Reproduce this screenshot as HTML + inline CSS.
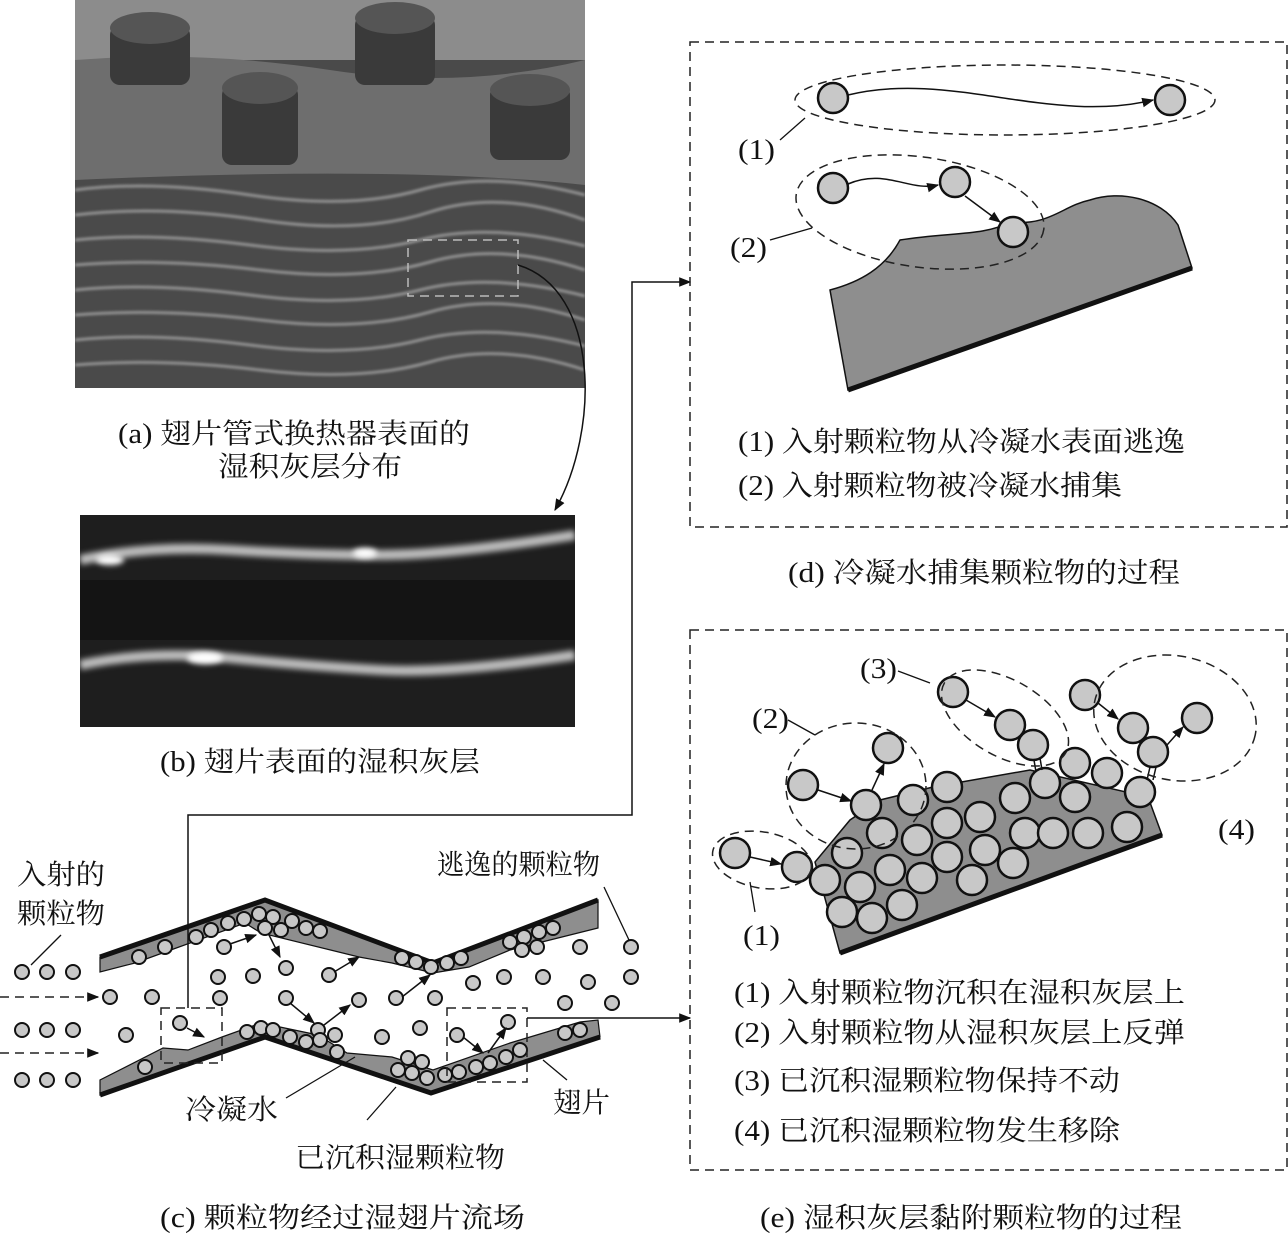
<!DOCTYPE html>
<html><head><meta charset="utf-8"><style>
html,body{margin:0;padding:0;background:#fff}
svg{display:block}
text{font-family:"Liberation Serif","Noto Serif CJK SC",serif;font-size:28px;fill:#111}
.p{fill:#c8c8c8;stroke:#111;stroke-width:2}
.q{fill:#c8c8c8;stroke:#111;stroke-width:2.5}
.d{fill:none;stroke:#222;stroke-width:1.5;stroke-dasharray:9 6}
.l{fill:none;stroke:#111;stroke-width:1.3}
.a{fill:none;stroke:#111;stroke-width:1.5;marker-end:url(#ah)}
</style></head><body>
<svg width="1288" height="1234" viewBox="0 0 1288 1234" xmlns="http://www.w3.org/2000/svg">
<defs>
<marker id="ah" viewBox="0 0 10 10" refX="9" refY="5" markerWidth="8" markerHeight="8" orient="auto-start-reverse"><path d="M0,1 L10,5 L0,9 z" fill="#111"/></marker>
<filter id="bl"><feGaussianBlur stdDeviation="3"/></filter>
<filter id="bl2"><feGaussianBlur stdDeviation="1.2"/></filter>
<clipPath id="ca"><rect x="75" y="0" width="510" height="388"/></clipPath>
<clipPath id="cb"><rect x="80" y="515" width="495" height="212"/></clipPath>
</defs>

<!-- photo a -->
<g clip-path="url(#ca)">
<rect x="75" y="0" width="510" height="388" fill="#4a4a4a"/>
<rect x="75" y="0" width="510" height="60" fill="#8c8c8c"/>
<path d="M75,60 Q200,50 330,70 T585,60 L585,185 Q400,165 75,180 Z" fill="#6e6e6e"/>
<g filter="url(#bl2)" stroke="#9a9a9a" stroke-width="3" fill="none" opacity="0.9">
<path d="M75,190 Q150,180 250,195 T420,190 T585,195"/>
<path d="M75,215 Q160,205 260,220 T430,212 T585,220"/>
<path d="M75,240 Q150,232 250,245 T420,240 T585,246"/>
<path d="M75,265 Q160,258 260,270 T430,262 T585,270"/>
<path d="M75,290 Q150,282 250,295 T420,290 T585,296"/>
<path d="M75,315 Q160,308 260,320 T430,312 T585,320"/>
<path d="M75,340 Q150,332 250,345 T420,340 T585,346"/>
<path d="M75,365 Q160,358 260,370 T430,362 T585,370"/>
</g>
<g fill="#3a3a3a">
<rect x="110" y="25" width="80" height="60" rx="10"/><ellipse cx="150" cy="28" rx="40" ry="16" fill="#555"/>
<rect x="355" y="15" width="80" height="70" rx="10"/><ellipse cx="395" cy="18" rx="40" ry="16" fill="#555"/>
<rect x="222" y="85" width="76" height="80" rx="10"/><ellipse cx="260" cy="88" rx="38" ry="16" fill="#555"/>
<rect x="490" y="85" width="80" height="75" rx="10"/><ellipse cx="530" cy="90" rx="40" ry="16" fill="#555"/>
</g>
<rect x="408" y="240" width="110" height="56" fill="none" stroke="#bbb" stroke-width="1.5" stroke-dasharray="9 6"/>
</g>
<path d="M518,265 C600,290 600,430 555,510" class="a"/>
<text x="118" y="443" textLength="352" lengthAdjust="spacingAndGlyphs">(a) 翅片管式换热器表面的</text>
<text x="218" y="476" textLength="184" lengthAdjust="spacingAndGlyphs">湿积灰层分布</text>

<!-- photo b -->
<g clip-path="url(#cb)">
<rect x="80" y="515" width="495" height="212" fill="#1e1e1e"/>
<rect x="80" y="580" width="495" height="60" fill="#141414"/>
<g filter="url(#bl)" fill="none" stroke="#bdbdbd">
<path d="M80,560 Q150,545 230,550 T380,555 T575,535" stroke-width="10"/>
<path d="M80,665 Q150,650 230,658 T380,670 T575,655" stroke-width="10"/>
</g>
<g filter="url(#bl)" fill="#fff"><ellipse cx="205" cy="658" rx="18" ry="6"/><ellipse cx="365" cy="553" rx="12" ry="5"/><ellipse cx="110" cy="560" rx="14" ry="5"/></g>
</g>
<text x="160" y="771" textLength="320" lengthAdjust="spacingAndGlyphs">(b) 翅片表面的湿积灰层</text>

<!-- diagram c -->
<path d="M100,957 L265,900 L433,963 L598,900 L598,928 L510,950 L469,967 L433,973 L392,963 L359,957 L261,933 L245,923 L135,963 L100,972 Z" fill="#8e8e8e" stroke="#111" stroke-width="1.2"/>
<path d="M100,957 L265,900 L433,963 L598,900" fill="none" stroke="#111" stroke-width="5"/>
<path d="M100,1095 L265,1037 L431,1093 L600,1037 L598,1020 L580,1022 L510,1043 L433,1070 L392,1057 L347,1053 L318,1035 L261,1023 L222,1037 L188,1050 L163,1048 L100,1080 Z" fill="#8e8e8e" stroke="#111" stroke-width="1.2"/>
<path d="M100,1095 L265,1037 L431,1093 L600,1037" fill="none" stroke="#111" stroke-width="5"/>
<g class="p">
<circle cx="22" cy="972" r="7"/><circle cx="47" cy="972" r="7"/><circle cx="73" cy="972" r="7"/>
<circle cx="22" cy="1030" r="7"/><circle cx="47" cy="1030" r="7"/><circle cx="73" cy="1030" r="7"/>
<circle cx="22" cy="1080" r="7"/><circle cx="47" cy="1080" r="7"/><circle cx="73" cy="1080" r="7"/>
<circle cx="110" cy="997" r="7"/><circle cx="152" cy="997" r="7"/><circle cx="126" cy="1035" r="7"/><circle cx="180" cy="1023" r="7"/>
<circle cx="139" cy="957" r="7"/><circle cx="165" cy="947" r="7"/><circle cx="196" cy="937" r="7"/><circle cx="211" cy="930" r="7"/>
<circle cx="228" cy="923" r="7"/><circle cx="244" cy="919" r="7"/><circle cx="259" cy="914" r="7"/><circle cx="273" cy="917" r="7"/>
<circle cx="265" cy="928" r="7"/><circle cx="281" cy="930" r="7"/><circle cx="292" cy="921" r="7"/><circle cx="306" cy="928" r="7"/><circle cx="320" cy="931" r="7"/>
<circle cx="224" cy="947" r="7"/><circle cx="286" cy="968" r="7"/><circle cx="218" cy="977" r="7"/><circle cx="253" cy="976" r="7"/>
<circle cx="220" cy="998" r="7"/><circle cx="286" cy="998" r="7"/><circle cx="329" cy="975" r="7"/><circle cx="359" cy="1000" r="7"/>
<circle cx="396" cy="998" r="7"/><circle cx="435" cy="998" r="7"/><circle cx="402" cy="958" r="7"/><circle cx="416" cy="962" r="7"/>
<circle cx="431" cy="967" r="7"/><circle cx="447" cy="963" r="7"/><circle cx="461" cy="958" r="7"/>
<circle cx="510" cy="942" r="7"/><circle cx="524" cy="937" r="7"/><circle cx="539" cy="932" r="7"/><circle cx="553" cy="928" r="7"/>
<circle cx="522" cy="950" r="7"/><circle cx="537" cy="947" r="7"/><circle cx="473" cy="983" r="7"/><circle cx="504" cy="977" r="7"/>
<circle cx="543" cy="977" r="7"/><circle cx="588" cy="982" r="7"/><circle cx="565" cy="1003" r="7"/><circle cx="612" cy="1003" r="7"/>
<circle cx="580" cy="947" r="7"/><circle cx="631" cy="947" r="7"/><circle cx="631" cy="977" r="7"/>
<circle cx="508" cy="1022" r="7"/><circle cx="457" cy="1035" r="7"/><circle cx="420" cy="1028" r="7"/><circle cx="382" cy="1037" r="7"/>
<circle cx="247" cy="1032" r="7"/><circle cx="261" cy="1028" r="7"/><circle cx="273" cy="1030" r="7"/><circle cx="290" cy="1037" r="7"/>
<circle cx="306" cy="1042" r="7"/><circle cx="318" cy="1030" r="7"/><circle cx="320" cy="1040" r="7"/><circle cx="335" cy="1035" r="7"/><circle cx="337" cy="1052" r="7"/>
<circle cx="408" cy="1058" r="7"/><circle cx="422" cy="1062" r="7"/><circle cx="398" cy="1070" r="7"/><circle cx="412" cy="1073" r="7"/><circle cx="427" cy="1078" r="7"/>
<circle cx="445" cy="1075" r="7"/><circle cx="459" cy="1072" r="7"/><circle cx="476" cy="1067" r="7"/><circle cx="490" cy="1063" r="7"/>
<circle cx="506" cy="1057" r="7"/><circle cx="520" cy="1050" r="7"/><circle cx="565" cy="1033" r="7"/><circle cx="580" cy="1030" r="7"/>
<circle cx="145" cy="1067" r="7"/>
</g>
<g class="a" stroke-width="1.2">
<path d="M187,1028 L204,1037"/><path d="M230,944 L256,935"/><path d="M269,935 L280,957"/>
<path d="M290,1003 L314,1023"/><path d="M324,1025 L350,1005"/><path d="M334,972 L359,957"/>
<path d="M402,997 L430,975"/><path d="M463,1037 L483,1053"/><path d="M488,1053 L506,1028"/>
</g>
<path d="M0,997 L98,997" class="d" style="marker-end:url(#ah)"/>
<path d="M0,1053 L98,1053" class="d" style="marker-end:url(#ah)"/>
<rect x="161" y="1008" width="61" height="55" class="d" stroke-width="1.3"/>
<rect x="447" y="1008" width="80" height="74" class="d" stroke-width="1.3"/>
<path d="M188,1008 L188,815 L632,815 L632,282 L690,282" class="a" stroke-width="1.3"/>
<path d="M527,1018 L690,1018" class="a" stroke-width="1.3"/>
<g class="l"><path d="M61,935 L31,965"/><path d="M604,887 L629,940"/><path d="M286,1098 L355,1057"/><path d="M367,1120 L396,1087"/><path d="M567,1080 L543,1060"/></g>
<text x="17" y="884" textLength="88" lengthAdjust="spacingAndGlyphs">入射的</text>
<text x="17" y="923" textLength="88" lengthAdjust="spacingAndGlyphs">颗粒物</text>
<text x="437" y="874" textLength="163" lengthAdjust="spacingAndGlyphs">逃逸的颗粒物</text>
<text x="185" y="1119" textLength="93" lengthAdjust="spacingAndGlyphs">冷凝水</text>
<text x="553" y="1112" textLength="57" lengthAdjust="spacingAndGlyphs">翅片</text>
<text x="295" y="1167" textLength="210" lengthAdjust="spacingAndGlyphs">已沉积湿颗粒物</text>
<text x="160" y="1227" textLength="365" lengthAdjust="spacingAndGlyphs">(c) 颗粒物经过湿翅片流场</text>

<!-- box d -->
<rect x="690" y="42" width="597" height="485" class="d"/>
<ellipse cx="1005" cy="100" rx="210" ry="35" class="d"/>
<circle cx="833" cy="98" r="15" class="q"/><circle cx="1170" cy="100" r="15" class="q"/>
<path d="M848,95 C950,70 1050,125 1153,100" class="a"/>
<path d="M780,140 L805,118" class="l"/>
<text x="738" y="159" textLength="37" lengthAdjust="spacingAndGlyphs">(1)</text>
<path d="M848,390 L830,290 C860,282 885,268 900,240 C950,232 985,236 1010,222 C1050,226 1062,206 1090,200 C1120,190 1160,198 1178,225 L1192,268 Z" fill="#8e8e8e" stroke="#111" stroke-width="1.5"/>
<path d="M848,390 L1192,268" stroke="#111" stroke-width="5"/>
<ellipse cx="920" cy="212" rx="125" ry="55" transform="rotate(8 920 212)" class="d"/>
<circle cx="833" cy="188" r="15" class="q"/><circle cx="955" cy="182" r="15" class="q"/><circle cx="1013" cy="232" r="15" class="q"/>
<path d="M848,184 C885,168 910,192 938,185" class="a"/>
<path d="M965,196 L1000,222" class="a"/>
<path d="M770,240 L812,228" class="l"/>
<text x="730" y="257" textLength="37" lengthAdjust="spacingAndGlyphs">(2)</text>
<text x="738" y="451" textLength="447" lengthAdjust="spacingAndGlyphs">(1) 入射颗粒物从冷凝水表面逃逸</text>
<text x="738" y="495" textLength="384" lengthAdjust="spacingAndGlyphs">(2) 入射颗粒物被冷凝水捕集</text>
<text x="788" y="582" textLength="392" lengthAdjust="spacingAndGlyphs">(d) 冷凝水捕集颗粒物的过程</text>

<!-- box e -->
<rect x="690" y="630" width="597" height="540" class="d"/>
<path d="M815,862 L840,953 L1162,835 L1148,797 L1030,770 L933,787 L880,800 L850,820 Z" fill="#8e8e8e" stroke="#111" stroke-width="1.5"/>
<path d="M840,953 L1162,835" stroke="#111" stroke-width="5"/>
<g class="q">
<circle cx="825" cy="880" r="15"/><circle cx="847" cy="853" r="15"/><circle cx="882" cy="833" r="15"/><circle cx="913" cy="800" r="15"/><circle cx="947" cy="787" r="15"/>
<circle cx="860" cy="887" r="15"/><circle cx="890" cy="870" r="15"/><circle cx="917" cy="840" r="15"/><circle cx="947" cy="823" r="15"/><circle cx="980" cy="817" r="15"/>
<circle cx="842" cy="912" r="15"/><circle cx="872" cy="918" r="15"/><circle cx="902" cy="905" r="15"/><circle cx="922" cy="878" r="15"/><circle cx="947" cy="857" r="15"/>
<circle cx="972" cy="880" r="15"/><circle cx="985" cy="850" r="15"/><circle cx="1013" cy="863" r="15"/><circle cx="1015" cy="798" r="15"/>
<circle cx="1025" cy="833" r="15"/><circle cx="1045" cy="783" r="15"/><circle cx="1053" cy="833" r="15"/><circle cx="1075" cy="763" r="15"/>
<circle cx="1075" cy="797" r="15"/><circle cx="1088" cy="833" r="15"/><circle cx="1107" cy="773" r="15"/><circle cx="1127" cy="827" r="15"/><circle cx="1140" cy="792" r="15"/>
<circle cx="735" cy="853" r="15"/><circle cx="797" cy="867" r="15"/>
<circle cx="803" cy="785" r="15"/><circle cx="866" cy="805" r="15"/><circle cx="888" cy="748" r="15"/>
<circle cx="953" cy="692" r="15"/><circle cx="1010" cy="725" r="15"/><circle cx="1033" cy="745" r="15"/>
<circle cx="1085" cy="695" r="15"/><circle cx="1133" cy="728" r="15"/><circle cx="1153" cy="752" r="15"/><circle cx="1197" cy="718" r="15"/>
</g>
<g class="a" stroke-width="1.3">
<path d="M750,857 L781,864"/><path d="M818,790 L851,801"/><path d="M872,790 L884,764"/>
<path d="M966,700 L995,717"/><path d="M1098,703 L1118,719"/><path d="M1167,745 L1183,727"/>
</g>
<g stroke="#111" stroke-width="1.5"><path d="M1034,760 L1036,772 M1040,758 L1042,770 M1150,767 L1147,780 M1156,767 L1153,780"/></g>
<ellipse cx="762" cy="860" rx="50" ry="28" transform="rotate(10 762 860)" class="d"/>
<ellipse cx="856" cy="786" rx="70" ry="63" class="d"/>
<ellipse cx="1005" cy="718" rx="70" ry="38" transform="rotate(30 1005 718)" class="d"/>
<ellipse cx="1175" cy="718" rx="82" ry="62" transform="rotate(12 1175 718)" class="d"/>
<g class="l"><path d="M750,882 L755,912"/><path d="M788,720 L815,735"/><path d="M898,671 L930,683"/></g>
<text x="743" y="945" textLength="37" lengthAdjust="spacingAndGlyphs">(1)</text>
<text x="752" y="728" textLength="37" lengthAdjust="spacingAndGlyphs">(2)</text>
<text x="860" y="678" textLength="37" lengthAdjust="spacingAndGlyphs">(3)</text>
<text x="1218" y="839" textLength="37" lengthAdjust="spacingAndGlyphs">(4)</text>
<text x="734" y="1002" textLength="451" lengthAdjust="spacingAndGlyphs">(1) 入射颗粒物沉积在湿积灰层上</text>
<text x="734" y="1042" textLength="451" lengthAdjust="spacingAndGlyphs">(2) 入射颗粒物从湿积灰层上反弹</text>
<text x="734" y="1090" textLength="386" lengthAdjust="spacingAndGlyphs">(3) 已沉积湿颗粒物保持不动</text>
<text x="734" y="1140" textLength="386" lengthAdjust="spacingAndGlyphs">(4) 已沉积湿颗粒物发生移除</text>
<text x="760" y="1227" textLength="422" lengthAdjust="spacingAndGlyphs">(e) 湿积灰层黏附颗粒物的过程</text>
</svg>
</body></html>
